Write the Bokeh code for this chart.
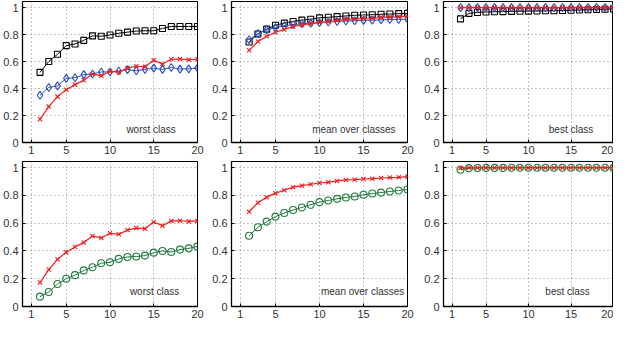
from bokeh.plotting import figure
from bokeh.layouts import gridplot
from bokeh.models import FixedTicker, Label
from bokeh.embed import file_html
from bokeh.resources import INLINE

# ---------------- data ----------------
x_values = [2, 3, 4, 5, 6, 7, 8, 9, 10, 11, 12, 13, 14, 15, 16, 17, 18, 19, 20]
x_ticks = [1, 5, 10, 15, 20]
y_ticks = [0, 0.2, 0.4, 0.6, 0.8, 1]
y_tick_labels = ["0", "0.2", "0.4", "0.6", "0.8", "1"]
panel_titles = ["worst class", "mean over classes", "best class"]

worst_black = [0.52, 0.60, 0.654, 0.718, 0.73, 0.757, 0.79, 0.788, 0.797, 0.81,
               0.818, 0.826, 0.828, 0.828, 0.845, 0.86, 0.86, 0.86, 0.86]
worst_blue = [0.35, 0.408, 0.42, 0.475, 0.48, 0.503, 0.508, 0.523, 0.523, 0.53,
              0.54, 0.532, 0.542, 0.551, 0.542, 0.556, 0.544, 0.546, 0.553]
worst_red = [0.173, 0.266, 0.34, 0.391, 0.429, 0.462, 0.508, 0.494, 0.528, 0.52,
             0.551, 0.565, 0.561, 0.609, 0.582, 0.617, 0.618, 0.613, 0.617]
worst_green = [0.071, 0.105, 0.162, 0.2, 0.226, 0.26, 0.283, 0.312, 0.319, 0.343,
               0.357, 0.36, 0.367, 0.388, 0.4, 0.393, 0.41, 0.419, 0.433]

mean_black = [0.745, 0.804, 0.84, 0.869, 0.885, 0.897, 0.907, 0.914, 0.924, 0.928,
              0.933, 0.938, 0.943, 0.945, 0.947, 0.95, 0.952, 0.955, 0.957]
mean_blue = [0.761, 0.807, 0.835, 0.852, 0.864, 0.873, 0.88, 0.885, 0.888, 0.893,
             0.897, 0.9, 0.902, 0.905, 0.907, 0.909, 0.912, 0.912, 0.914]
mean_red = [0.683, 0.748, 0.788, 0.817, 0.838, 0.86, 0.871, 0.881, 0.89, 0.895,
            0.905, 0.912, 0.914, 0.919, 0.921, 0.926, 0.929, 0.931, 0.936]
mean_green = [0.51, 0.571, 0.612, 0.648, 0.674, 0.695, 0.714, 0.733, 0.752, 0.764,
              0.776, 0.786, 0.793, 0.805, 0.814, 0.821, 0.829, 0.836, 0.843]

best_black = [0.916, 0.957, 0.964, 0.967, 0.969, 0.970, 0.972, 0.973, 0.974, 0.975,
              0.976, 0.977, 0.978, 0.980, 0.982, 0.984, 0.986, 0.988, 0.990]
best_blue = [1.0, 1.0, 1.0, 1.0, 1.0, 1.0, 1.0, 1.0, 1.0, 1.0,
             1.0, 1.0, 1.0, 1.0, 1.0, 1.0, 1.0, 1.0, 1.0]
best_red = [0.999, 1.0, 1.0, 1.0, 1.0, 1.0, 1.0, 1.0, 1.0, 1.0,
            1.0, 1.0, 1.0, 1.0, 1.0, 1.0, 1.0, 1.0, 1.0]
best_green = [0.986, 0.997, 0.998, 0.999, 0.999, 0.999, 1.0, 1.0, 1.0, 1.0,
              1.0, 1.0, 1.0, 1.0, 1.0, 1.0, 1.0, 1.0, 1.0]

# ---------------- styles ----------------
FONT = "Liberation Sans"
STYLE = {
    "black": dict(color="black", marker="square", size=6, lw=1.0),
    "blue": dict(color="#2c4fc2", marker="diamond", size=8, lw=1.0),
    "red": dict(color="#f01e1e", marker="x", size=6, lw=1.2),
    "green": dict(color="#1f7a3c", marker="circle", size=7, lw=1.0),
}

col_specs = [(20, 175, 10), (24, 176, 11), (25, 170, 0)]   # border_left, frame_w, border_right
row_specs = [(1, 141, 18), (1, 145, 16)]                    # border_top, frame_h, border_bottom
label_pos = [[(14.7, 0.097), (13.9, 0.097), (15.0, 0.097)],
             [(15.1, 0.109), (14.9, 0.109), (14.6, 0.109)]]

top_series = [
    [("black", worst_black), ("blue", worst_blue), ("red", worst_red)],
    [("black", mean_black), ("blue", mean_blue), ("red", mean_red)],
    [("black", best_black), ("blue", best_blue), ("red", best_red)],
]
bottom_series = [
    [("green", worst_green), ("red", worst_red)],
    [("green", mean_green), ("red", mean_red)],
    [("green", best_green), ("red", best_red)],
]


def make_panel(series, title, col, row):
    bl, fw, br = col_specs[col]
    bt, fh, bb = row_specs[row]
    p = figure(output_backend="svg", toolbar_location=None,
               frame_width=fw, frame_height=fh,
               min_border_left=bl, min_border_right=br,
               min_border_top=bt, min_border_bottom=bb,
               x_range=(0, 20), y_range=(0, 1.045))
    p.background_fill_color = "white"
    p.border_fill_color = "white"
    p.outline_line_color = "black"
    p.outline_line_width = 1

    p.xaxis.ticker = FixedTicker(ticks=x_ticks)
    p.yaxis.ticker = FixedTicker(ticks=y_ticks)
    p.yaxis.major_label_overrides = {t: s for t, s in zip(y_ticks, y_tick_labels)}
    for ax in (p.xaxis, p.yaxis):
        ax.axis_line_color = "black"
        ax.axis_line_width = 1.3
        ax.major_tick_in = 3
        ax.major_tick_out = 0
        ax.major_tick_line_color = "black"
        ax.minor_tick_line_color = None
        ax.major_label_text_font = FONT
        ax.major_label_text_font_size = "11px"
        ax.major_label_text_color = "#333333"
    p.xaxis.major_label_standoff = 3
    p.yaxis.major_label_standoff = 4

    for g in (p.xgrid, p.ygrid):
        g.grid_line_color = "#555555"
        g.grid_line_dash = "1 3"
        g.grid_line_width = 1
        g.grid_line_alpha = 0.7

    for key, vals in series:
        st = STYLE[key]
        p.line(x_values, vals, line_color=st["color"], line_width=st["lw"])
        p.scatter(x_values, vals, marker=st["marker"], size=st["size"],
                  line_color=st["color"], fill_color=None, line_width=1.1)

    lx, ly = label_pos[row][col]
    p.add_layout(Label(x=lx, y=ly, text=title, text_font=FONT,
                       text_font_size="10px", text_color="#333333",
                       text_align="center", text_baseline="middle"))
    return p


row1 = [make_panel(top_series[i], panel_titles[i], i, 0) for i in range(3)]
row2 = [make_panel(bottom_series[i], panel_titles[i], i, 1) for i in range(3)]

grid = gridplot([row1, row2], toolbar_location=None)

open("out.html", "w").write(file_html(grid, INLINE))
